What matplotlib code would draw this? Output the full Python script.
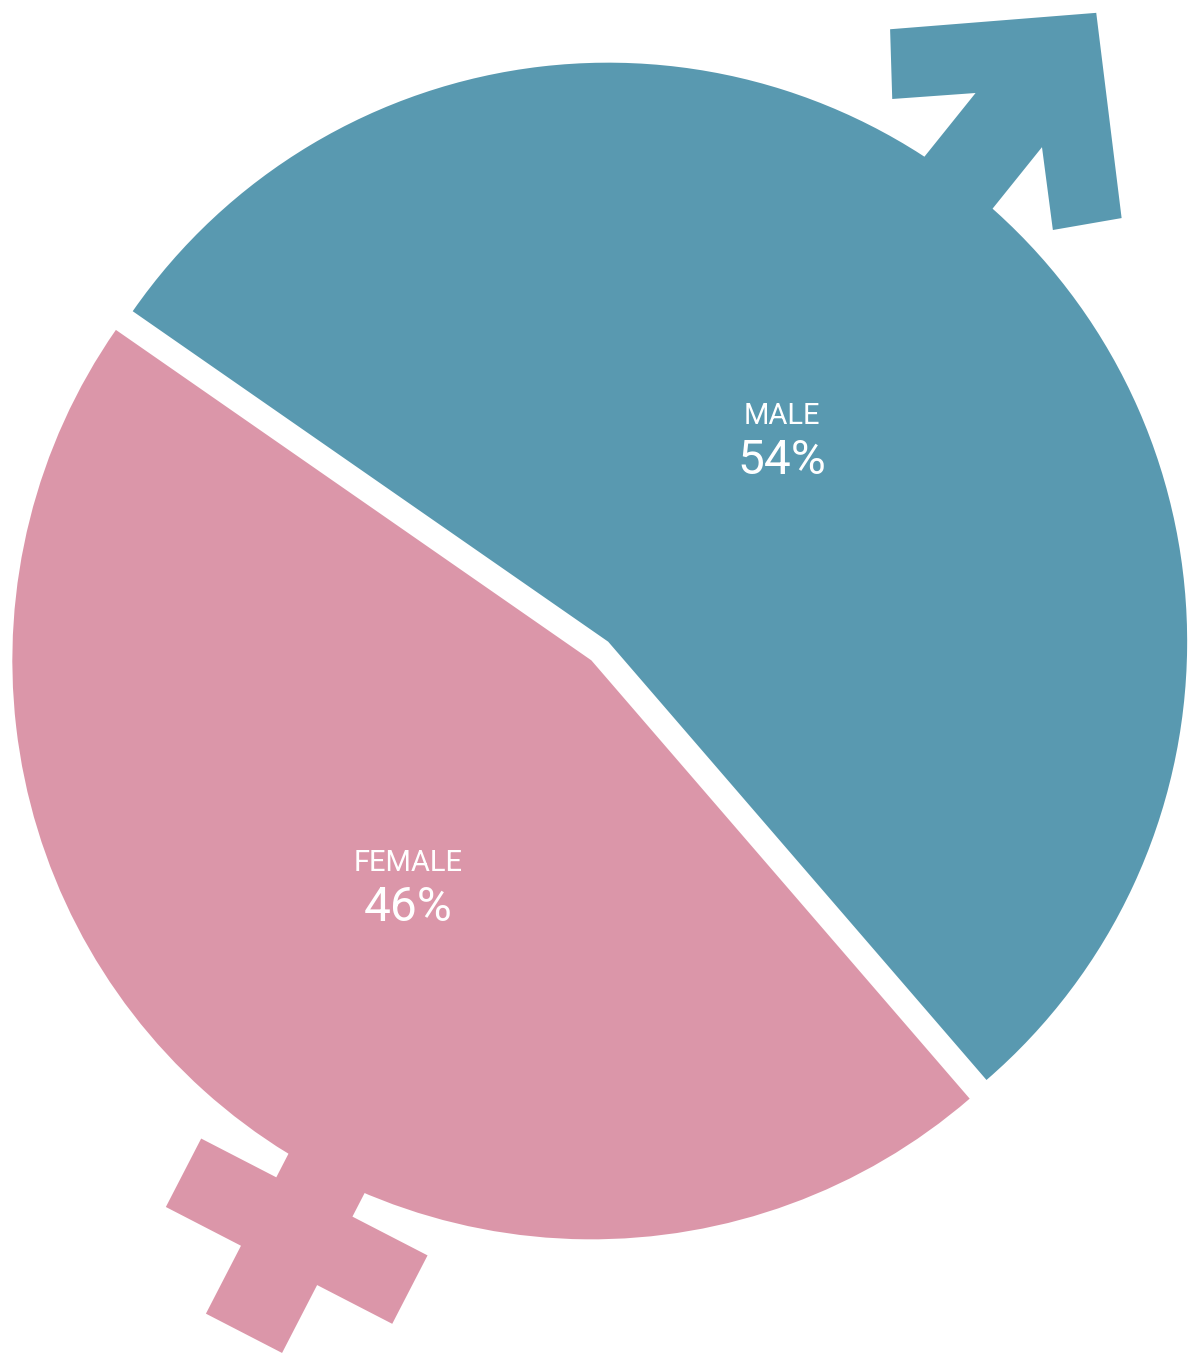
import numpy as np
import matplotlib
matplotlib.use("Agg")
import matplotlib.pyplot as plt
from matplotlib.patches import Polygon

# ---- data ----
categories = ["MALE", "FEMALE"]
shares = [54, 46]
pct_labels = ["54%", "46%"]
colors = ["#5999B0", "#DB96A9"]

# ---- figure: 1 data unit = 1 pixel ----
W, H = 1188, 1353
fig = plt.figure(figsize=(W / 100, H / 100), dpi=100)
ax = fig.add_axes([0, 0, 1, 1])

R = 579
center = (599.75, H - 651)
gap = 0.0217 * R

wedges, _ = ax.pie(shares, colors=colors, startangle=-49.2, counterclock=True,
                   radius=R, center=center, explode=[gap, gap],
                   wedgeprops=dict(linewidth=0), frame=True)
ax.set_xlim(0, W)
ax.set_ylim(0, H)
ax.set_aspect("equal")
ax.axis("off")

# gender symbol shapes in local (u along axis, v across) units of radius
male_shape = [(0.90, -0.074), (1.136, -0.074), (1.037, -0.179), (1.128, -0.258),
              (1.375, 0.0), (1.128, 0.258), (1.037, 0.179), (1.136, 0.074), (0.90, 0.074)]
female_shape = [(0.90, -0.074), (1.043, -0.074), (1.043, -0.220), (1.176, -0.220),
                (1.176, -0.074), (1.308, -0.074), (1.308, 0.074), (1.176, 0.074),
                (1.176, 0.220), (1.043, 0.220), (1.043, 0.074), (0.90, 0.074)]
symbol_angles = [52.8, 242.7]
symbol_twist = [-2.0, 0.0]
symbols = [male_shape, female_shape]
label_dist = [0.464, 0.498]
label_angle_offset = [1.8, 2.6]

for w, shape, ang, tw, col, name, pct, ld, lo in zip(
        wedges, symbols, symbol_angles, symbol_twist, colors,
        categories, pct_labels, label_dist, label_angle_offset):
    cx, cy = w.center
    r = w.r
    a = np.deg2rad(ang)
    base = np.array([cx, cy])
    ax_u = np.array([np.cos(a), np.sin(a)])
    ax_v = np.array([-np.sin(a), np.cos(a)])
    # rotate the head slightly about the shaft base point to match the drawing
    t = np.deg2rad(tw)
    b = np.deg2rad(ang + tw)
    hu = np.array([np.cos(b), np.sin(b)])
    hv = np.array([-np.sin(b), np.cos(b)])
    pts = []
    for u, v in shape:
        if u <= 0.9:
            pts.append(base + r * (u * ax_u + v * ax_v))
        else:
            pivot = base + r * 0.95 * ax_u
            pts.append(pivot + r * ((u - 0.95) * hu + v * hv))
    ax.add_patch(Polygon(pts, closed=True, facecolor=col, edgecolor="none", zorder=0.5))

    tm = np.deg2rad((w.theta1 + w.theta2) / 2 + lo)
    lx = cx + ld * r * np.cos(tm)
    ly = cy + ld * r * np.sin(tm)
    ax.text(lx, ly + 12.5, name, ha="center", va="baseline", color="white",
            fontsize=21, family="Roboto")
    ax.text(lx, ly - 38, pct, ha="center", va="baseline", color="white",
            fontsize=34.5, family="Roboto")

fig.savefig("out.png", dpi=100, facecolor="white")
